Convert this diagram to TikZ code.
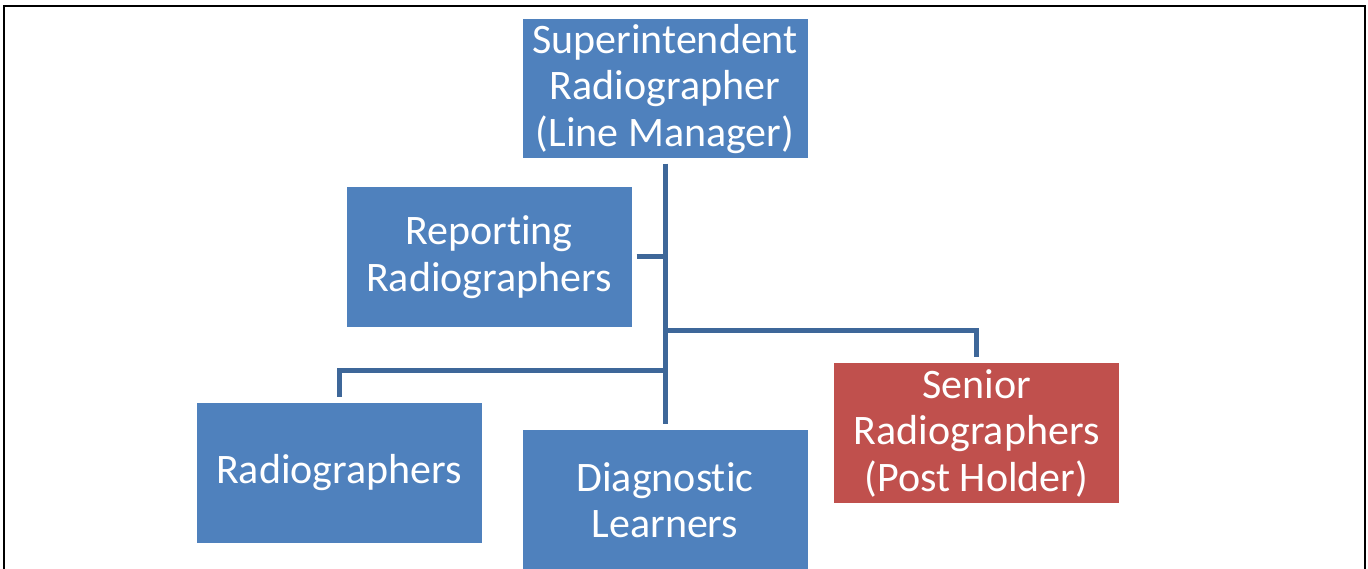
\documentclass[tikz,border=0pt]{standalone}
\usepackage{fontspec}
\setmainfont{Carlito}[Ligatures={NoCommon,NoRare}]
\definecolor{boxblue}{HTML}{4F81BD}
\definecolor{boxred}{HTML}{C0504D}
\definecolor{linkblue}{HTML}{3E6799}
\begin{document}
\begin{tikzpicture}[x=1pt,y=-1pt,
  orgbox/.style={fill=boxblue, minimum width=285pt, minimum height=140pt, inner sep=0pt,
    text=white, align=center, font=\fontsize{42}{46.5}\selectfont},
  link/.style={draw=linkblue, line width=5pt}]
\useasboundingbox (0,0) rectangle (1368,569);
\draw[line width=2pt] (3.7,590) -- (3.7,5.7) -- (1364.5,5.7) -- (1364.5,590);
\node[orgbox, minimum height=139pt] (sup) at (665,89) {Superintendent\\Radiographer\\(Line Manager)};
\node[orgbox] (rep) at (489,257) {Reporting\\Radiographers};
\node[orgbox] (rad) at (339,473) {Radiographers};
\node[orgbox] (diag) at (665,500) {Diagnostic\\Learners};
\node[orgbox, fill=boxred] (sen) at (976.5,433) {Senior\\Radiographers\\(Post Holder)};
\coordinate (jsen) at (665,330);
\coordinate (jrad) at (665,370);
\draw[link] ([yshift=-5pt]sup.south) -- ([yshift=6pt]diag.north);
\draw[link] ([xshift=5pt]rep.east) -- (rep.east -| sup.south);
\draw[link] (jsen) -| ([yshift=6pt]sen.north);
\draw[link] (jrad) -| ([yshift=6pt]rad.north);
\end{tikzpicture}
\end{document}
